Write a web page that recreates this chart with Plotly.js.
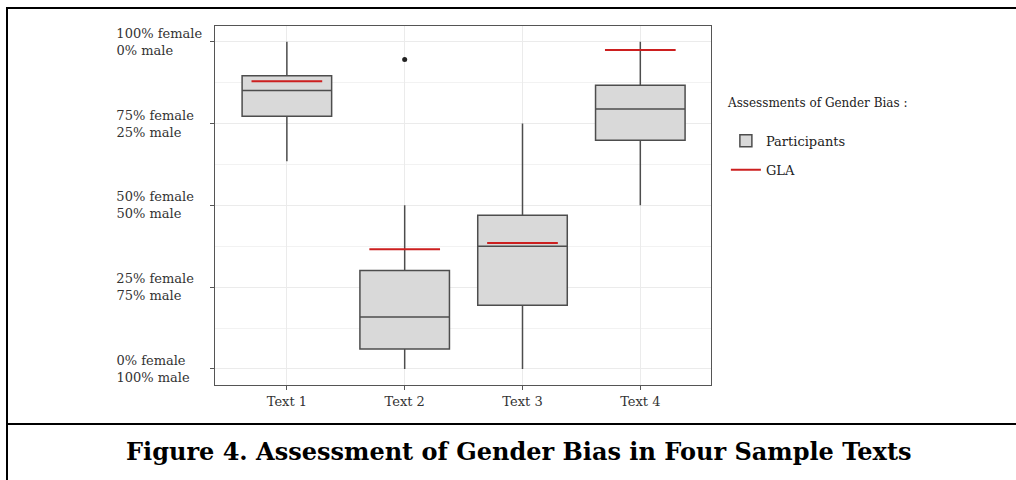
<!DOCTYPE html>
<html>
<head>
<meta charset="utf-8">
<script src="https://cdn.plot.ly/plotly-3.0.1.min.js"></script>
<style>
  html, body { margin: 0; padding: 0; background: #fff; }
  #wrap { position: relative; width: 1016px; height: 480px; overflow: hidden; }
  #chart { position: absolute; left: 0; top: 0; width: 1016px; height: 480px; }
  .rule { position: absolute; background: #000; }
</style>
</head>
<body>
<div id="wrap">
  <div id="chart"></div>
  <div class="rule" style="left:6px;top:7px;width:2px;height:473px;"></div>
  <div class="rule" style="left:6px;top:7px;width:1010px;height:2px;"></div>
  <div class="rule" style="left:6px;top:423px;width:1010px;height:2px;"></div>
</div>
<script>
// ---- data ----
const categories = ["Text 1", "Text 2", "Text 3", "Text 4"];
const lowerWhisker = [63.5, 0, 0, 50];
const q1Values     = [77.2, 6.1, 19.5, 69.9];
const medianValues = [85.1, 15.9, 37.5, 79.4];
const q3Values     = [89.6, 30.1, 47.0, 86.7];
const upperWhisker = [100, 50, 75, 100];
const outlierCategory = ["Text 2"];
const outlierValues   = [94.6];
const glaValues = [87.9, 36.6, 38.5, 97.5];
const yTickValues = [0, 25, 50, 75, 100];
const yTickLines = [["0% female", "100% male"], ["25% female", "75% male"],
                    ["50% female", "50% male"], ["75% female", "25% male"],
                    ["100% female", "0% male"]];

// ---- build traces ----
const idx = categories.map((c, i) => i);
const boxWidth = 0.76;
const glaHalf = 0.3;

const glaX = [], glaY = [];
idx.forEach(i => { glaX.push(i - glaHalf, i + glaHalf, null); glaY.push(glaValues[i], glaValues[i], null); });

const font = "DejaVu Serif, Liberation Serif, serif";
const tickSize = 13;

// left-align multi-line tick labels by padding with no-break spaces
const cv = document.createElement("canvas").getContext("2d");
cv.font = tickSize + "px 'DejaVu Serif'";
const allLines = yTickLines.flat();
const maxW = Math.max(...allLines.map(s => cv.measureText(s).width));
const nbspW = cv.measureText("\u00A0").width || tickSize * 0.318;
const yTickText = yTickLines.map(lines => lines.map(s => {
  const n = Math.max(0, Math.round((maxW - cv.measureText(s).width) / nbspW));
  return s + "\u00A0".repeat(n);
}).join("<br>"));

const traces = [
  {
    type: "box", name: "Participants", x: idx,
    q1: q1Values, median: medianValues, q3: q3Values,
    lowerfence: lowerWhisker, upperfence: upperWhisker,
    width: boxWidth, whiskerwidth: 0,
    fillcolor: "#d9d9d9", line: { color: "#4d4d4d", width: 1.5 },
    hoverinfo: "skip", legendgroup: "a"
  },
  {
    type: "scatter", mode: "markers", showlegend: false,
    x: outlierCategory.map(c => categories.indexOf(c)), y: outlierValues,
    marker: { color: "#222", size: 5 }, hoverinfo: "skip"
  },
  {
    type: "scatter", mode: "lines", name: "GLA", x: glaX, y: glaY,
    line: { color: "#cc1f1f", width: 2 }, connectgaps: false,
    hoverinfo: "skip", legendgroup: "b"
  }
];

const layout = {
  width: 1016, height: 480,
  margin: { l: 215, r: 305, t: 26, b: 95 },
  paper_bgcolor: "rgba(0,0,0,0)", plot_bgcolor: "#fff",
  font: { family: font, color: "#333", size: 13 },
  showlegend: true,
  legend: {
    x: 1.03, xanchor: "left", y: 0.722, yanchor: "top",
    font: { family: font, size: 13, color: "#222" },
    traceorder: "grouped", tracegroupgap: 9, bgcolor: "rgba(0,0,0,0)"
  },
  xaxis: {
    range: [-0.61, 3.6], tickvals: idx, ticktext: categories,
    showgrid: true, gridcolor: "#ebebeb", gridwidth: 1, zeroline: false,
    showline: true, mirror: true, linecolor: "#555", linewidth: 1.3,
    ticks: "outside", ticklen: 4, tickcolor: "#555",
    tickfont: { family: font, size: 13, color: "#333" }
  },
  yaxis: {
    range: [-4.9, 104.8], tickvals: yTickValues, ticktext: yTickText,
    showgrid: true, gridcolor: "#ebebeb", gridwidth: 1, zeroline: false,
    minor: { dtick: 12.5, tick0: 0, showgrid: true, gridcolor: "#f2f2f2", ticks: "" },
    showline: true, mirror: true, linecolor: "#555", linewidth: 1.3,
    ticks: "outside", ticklen: 4, tickcolor: "#555", ticklabelstandoff: 5,
    tickfont: { family: font, size: tickSize, color: "#333" }
  },
  annotations: [
    {
      xref: "paper", yref: "paper", x: 1.028, y: 0.786, xanchor: "left", yanchor: "middle",
      text: "Assessments of Gender Bias :", showarrow: false,
      font: { family: font, size: 12, color: "#222" }
    },
    {
      xref: "paper", yref: "paper", x: 0.612, y: -0.186, xanchor: "center", yanchor: "middle",
      text: "<b>Figure 4. Assessment of Gender Bias in Four Sample Texts</b>", showarrow: false,
      font: { family: font, size: 24, color: "#000" }
    }
  ]
};

Plotly.newPlot("chart", traces, layout, { displayModeBar: false, staticPlot: true });
</script>
</body>
</html>
